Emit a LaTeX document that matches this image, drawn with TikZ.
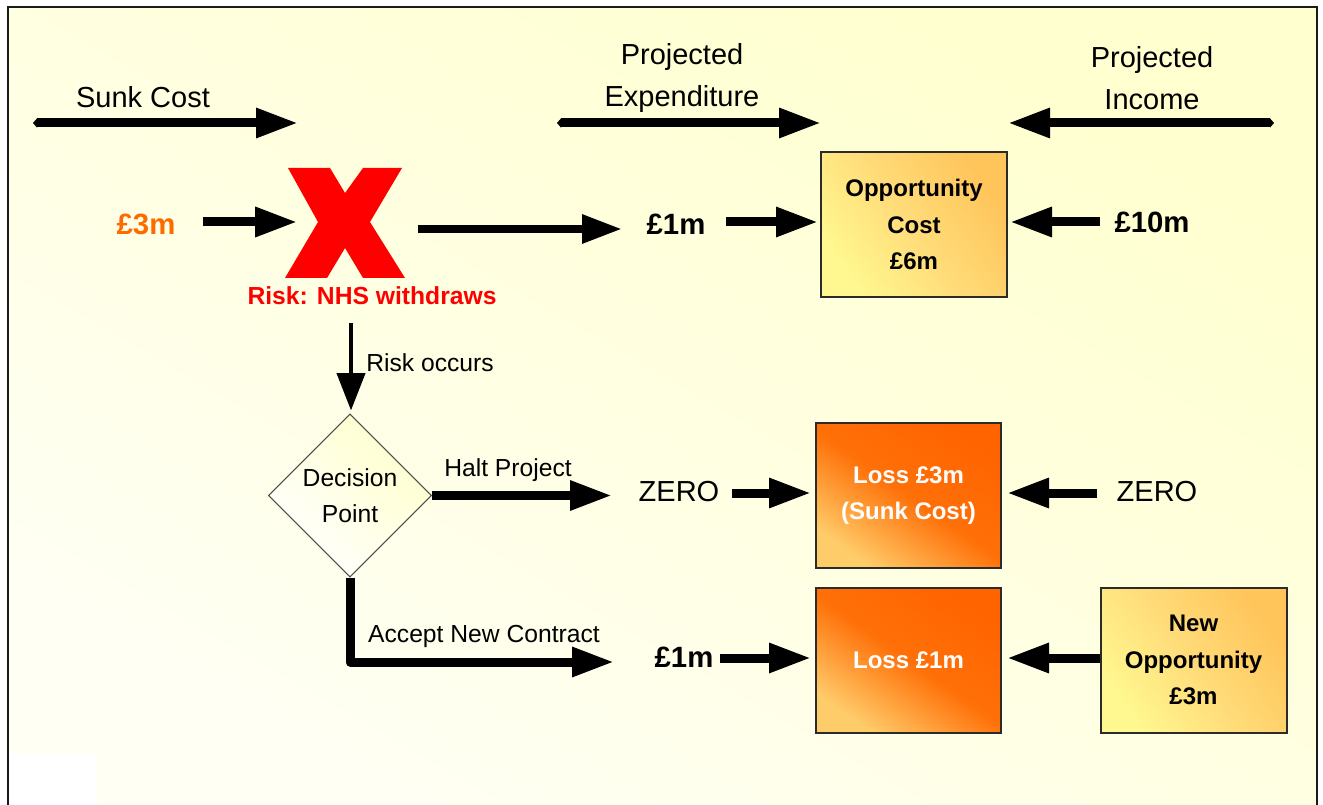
\documentclass[tikz,border=0pt]{standalone}
\usepackage{fontspec}
\setmainfont{Liberation Sans}
\usetikzlibrary{arrows.meta,shapes.geometric,calc}

\definecolor{panelTop}{HTML}{FFFFCF}
\definecolor{panelBot}{HTML}{FFFFF4}
\definecolor{frameLine}{HTML}{1A1A1A}
\definecolor{costOrange}{HTML}{FF6A00}
\definecolor{xRed}{HTML}{FF0000}
\definecolor{goldDark}{HTML}{FFC45A}
\definecolor{goldMid}{HTML}{FFDB78}
\definecolor{goldLight}{HTML}{FFF890}
\definecolor{lossDark}{HTML}{FF6400}
\definecolor{lossMid}{HTML}{FF7008}
\definecolor{lossLight}{HTML}{FFCC6A}
\definecolor{boxLine}{HTML}{2B2B2B}

\tikzset{
  bigtxt/.style={font=\fontsize{21.75}{31.5}\selectfont, inner sep=0pt},
  smalltxt/.style={font=\fontsize{18.5}{27}\selectfont, inner sep=0pt},
  amount/.style={font=\bfseries\fontsize{22}{26}\selectfont, inner sep=0pt},
  boxtxt/.style={font=\bfseries\fontsize{18}{27.5}\selectfont, align=center},
  fat/.style={line width=6.75pt, -{Triangle[length=31.5pt,width=21pt]}},
  medium/.style={line width=6pt, -{Triangle[length=30pt,width=20.5pt]}},
  thinarrow/.style={line width=3pt, -{Triangle[length=28pt,width=21pt]}},
  pointed/.style={{Triangle[length=3pt,width=6.75pt]}-{Triangle[length=31.5pt,width=21pt]}, line width=6.75pt},
  goldbox/.style={draw=boxLine, line width=1.5pt,
    top color=goldDark, bottom color=goldLight, middle color=goldMid, shading angle=-55,
    minimum width=139.5pt, minimum height=108.75pt, inner sep=0pt},
  lossbox/.style={draw=boxLine, line width=1.5pt,
    top color=lossDark, bottom color=lossLight, middle color=lossMid, shading angle=-35,
    minimum width=138.75pt, minimum height=108.75pt, inner sep=0pt, text=white},
  decision/.style={diamond, aspect=1, draw=black!70, line width=0.8pt, inner sep=0pt,
    minimum width=122.25pt, minimum height=122.25pt,
    top color=yellow!20, bottom color=white, shading angle=-45, align=center,
    font=\fontsize{18.5}{27}\selectfont},
}

\begin{document}
\begin{tikzpicture}[x=0.75pt,y=-0.75pt]
\useasboundingbox (0,0) rectangle (1323,805);
\fill[white] (0,0) rectangle (1323,805);

% panel background and frame
\shade[top color=panelTop, bottom color=panelBot, shading angle=-30]
  (8,7) rectangle (1317,805);
\fill[white] (9,754) rectangle (97,805);
\draw[frameLine, line width=1.6pt] (8,805) -- (8,7) -- (1317,7) -- (1317,805);

% column headings
\node[bigtxt] (sunk) at (143,97) {Sunk Cost};
\node[bigtxt, align=center] (pexp) at (682,78) {Projected\\Expenditure};
\node[bigtxt, align=center] (pinc) at (1152,78) {Projected\\Income};
\coordinate (sunkL) at (33,123);
\coordinate (sunkR) at (298,123);
\coordinate (expL) at (557,123);
\coordinate (expR) at (821,123);
\coordinate (incR) at (1274,123);
\coordinate (incL) at (1008,123);
\draw[pointed] (sunkL) -- (sunkR);
\draw[pointed] (expL) -- (expR);
\draw[pointed] (incR) -- (incL);

% top row
\node[amount, text=costOrange] (c3) at (146,224) {£3m};
\fill[xRed] (288,168) -- (330,168) -- (345,193) -- (363,168) -- (402,168)
  -- (370,222) -- (405,278) -- (363,278) -- (345,248) -- (327,278)
  -- (285,278) -- (318,222) -- cycle;
\node[minimum width=87.75pt, minimum height=82.5pt, inner sep=0pt] (xm) at (345,223) {};
\node[font=\bfseries\fontsize{18.5}{22}\selectfont, text=xRed, inner sep=0pt] (risk) at (372,296) {Risk: NHS withdraws};
\node[amount] (m1) at (676,224) {£1m};
\node[goldbox] (opp) at (914,224.5) {};
\node[boxtxt] at (opp) {Opportunity\\Cost\\£6m};
\node[amount] (m10) at (1152,222) {£10m};

\draw[fat] ($(c3.center)+(57,-2)$) -- ($(xm.west)+(11,-1)$);
\draw[medium] ($(xm.east)+(14,6)$) -- ($(m1.center)+(-54,5)$);
\draw[fat] ($(m1.center)+(50,-2)$) -- ($(opp.west)+(-2,-2.5)$);
\draw[fat] ($(m10.center)+(-52,0)$) -- ($(opp.east)+(2,-2.5)$);

% risk branch
\node[decision] (dp) at (350,495.5) {Decision\\Point};
\draw[thinarrow] ($(xm.south)+(6,45)$) -- ($(dp.north)+(1,-3)$);
\node[smalltxt, anchor=west] (rocc) at (366,363) {Risk occurs};

% halt project
\node[bigtxt] (z1) at (679,492) {ZERO};
\node[lossbox] (loss3) at (908.5,495.5) {};
\node[boxtxt, text=white] at (loss3) {Loss £3m\\(Sunk Cost)};
\node[bigtxt] (z2) at (1157,492) {ZERO};
\draw[fat] (dp.east) -- ($(z1.center)+(-67,3.5)$);
\node[smalltxt] (halt) at (508,470) {Halt Project};
\draw[fat] ($(z1.center)+(53,1)$) -- ($(loss3.west)+(-4,-2.5)$);
\draw[fat] ($(z2.center)+(-60,1)$) -- ($(loss3.east)+(5,-2.5)$);

% accept new contract
\node[amount] (m1b) at (684,657) {£1m};
\node[lossbox] (loss1) at (908.5,660) {};
\node[boxtxt, text=white] at (loss1) {Loss £1m};
\node[goldbox] (newop) at (1193.5,660) {};
\node[boxtxt] at (newop) {New\\Opportunity\\£3m};
\draw[fat, line join=round] (dp.south) |- ($(m1b.center)+(-70,5)$);
\node[smalltxt] (acc) at (484,636) {Accept New Contract};
\draw[fat] ($(m1b.center)+(36,1)$) -- ($(loss1.west)+(-4,-2)$);
\draw[fat] ($(newop.west)+(0,-2)$) -- ($(loss1.east)+(5,-2)$);
\end{tikzpicture}
\end{document}
